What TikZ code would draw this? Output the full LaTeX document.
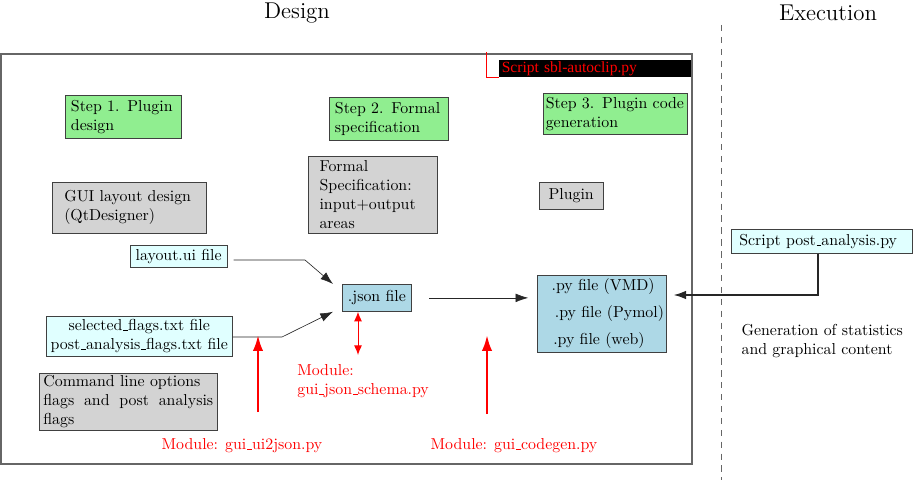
\documentclass[tikz,border=0pt]{standalone}
\usepackage{amsmath}
\usepackage{fontspec}
\usepackage{tikz}
\usetikzlibrary{arrows.meta,calc}
\newfontfamily\sblfont{Liberation Serif}
\newcommand{\usc}{\leavevmode\kern.06em\vbox{\hrule width.3em}}
\definecolor{stepgreen}{HTML}{90EE90}
\definecolor{specgray}{HTML}{D3D3D3}
\definecolor{filecyan}{HTML}{E0FFFF}
\definecolor{fileblue}{HTML}{ADD8E6}

\begin{document}
\begin{tikzpicture}[x=0.63pt, y=-0.63pt,
	box/.style={draw=black!75, line width=0.5pt, anchor=north west, align=left, inner ysep=0pt},
	stepbox/.style={box, fill=stepgreen},
	specbox/.style={box, fill=specgray},
	filebox/.style={box, fill=filecyan, align=center},
	jsonbox/.style={box, fill=fileblue},
	module/.style={text=red},
	flow/.style={draw=black!85, -{Latex[length=8pt, width=5.5pt]}},
	modflow/.style={draw=red, line width=1.6pt, -{Latex[length=10pt, width=6.5pt]}}]
	\useasboundingbox (0,0) rectangle (914,488);
	\node[font=\Large] (design) at (297,13) {Design};
	\node[font=\Large] (execution) at (828,13) {Execution};
	\draw[black!60, line width=0.8pt] (1,54) rectangle (692,464);
	\draw[black!60, dash pattern=on 4pt off 3.5pt] (721,25) -- (721,480);
	\node[box, draw=none, fill=black, text=red, font=\sblfont\fontsize{9.8}{11}\selectfont,
		text width=118pt, inner xsep=1.5pt, minimum height=10.5pt] (sbl) at (499,60) {Script sbl-autoclip.py};
	\coordinate (sbltop) at (486,52);
	\draw[red] (sbltop) |- (sbl.south west);
	\node[stepbox, text width=66pt, inner xsep=3.5pt, minimum height=27pt] (step1) at (65,95) {Step 1. Plugin\\design};
	\node[stepbox, text width=68pt, inner xsep=3.5pt, minimum height=27pt] (step2) at (329,97) {Step 2. Formal\\specification};
	\node[stepbox, text width=88pt, inner xsep=1.5pt, minimum height=26pt] (step3) at (543,93) {Step 3. Plugin code\\generation};
	\node[specbox, text width=82pt, inner xsep=7.5pt, minimum height=32pt] (gui) at (52,182) {GUI layout design\\(QtDesigner)};
	\node[specbox, text width=67pt, inner xsep=7pt, minimum height=48.5pt] (formal) at (308,156) {Formal\\Specification:\\input+output\\areas};
	\node[specbox, minimum width=40pt, minimum height=17pt] (plugin) at (539,182) {Plugin};
	\node[filebox, minimum width=58pt, minimum height=14pt] (layoutui) at (130,245) {layout.ui file};
	\node[filebox, minimum width=117pt, minimum height=25pt, inner xsep=0pt] (flags) at (46,316) {selected\usc flags.txt file\\post\usc analysis\usc flags.txt file};
	\node[specbox, text width=107pt, inner xsep=2.5pt, minimum height=36pt] (cmdline) at (39,373) {Command line options\\flags\hfill and\hfill post\hfill analysis\\flags};
	\node[jsonbox, minimum width=43.5pt, minimum height=17pt] (json) at (342,284) {.json file};
	\node[jsonbox, text width=75pt, inner xsep=3pt, minimum height=48.5pt] (pyfiles) at (537,275) {\hspace*{6pt}\mbox{.py file (VMD)}\\[5pt]\hspace*{8pt}\mbox{.py file (Pymol)}\\[5pt]\hspace*{7pt}\mbox{.py file (web)}};
	\node[filebox, align=left, text width=104pt, inner xsep=5pt, minimum height=15pt] (postscript) at (731,229) {Script post\usc analysis.py};
	\node[anchor=west, align=left] (generation) at (736,341) {Generation of statistics\\and graphical content};
	\node[module, anchor=north west, align=left, inner sep=0pt] (schema) at (297,364) {Module:\\gui\usc json\usc schema.py};
	\node[module] (ui2json) at (242,446) {Module: gui\usc ui2json.py};
	\node[module] (codegen) at (514,446) {Module: gui\usc codegen.py};
	\coordinate (uibend) at (305,260);
	\coordinate (flagbend) at (282,337);
	\coordinate (postbend) at (818,295);
	\coordinate (schemaend) at (358,355);
	\coordinate (uibase) at (258,412);
	\coordinate (uitip) at (258,335);
	\coordinate (genbase) at (487,414);
	\coordinate (gentip) at (487,335);
	\draw[flow, shorten <=4pt] (layoutui.east |- uibend) -- (uibend) -- ($(json.north west)+(-9,0)$);
	\draw[flow] (flags.east |- flagbend) -- (flagbend) -- ($(json.south west)+(-9,0)$);
	\draw[flow, shorten <=11pt, shorten >=5.5pt] (json.east) -- (json.east -| pyfiles.west);
	\draw[flow, line width=1.1pt, shorten >=4.5pt] (postscript.south -| postbend) -- (postbend) -- (postbend -| pyfiles.east);
	\draw[red, line width=0.6pt, {Latex[length=6pt, width=5pt]}-{Latex[length=6pt, width=5pt]}] (json.south -| schemaend) -- (schemaend);
	\draw[modflow] (uibase) -- (uitip);
	\draw[modflow] (genbase) -- (gentip);
\end{tikzpicture}
\end{document}
